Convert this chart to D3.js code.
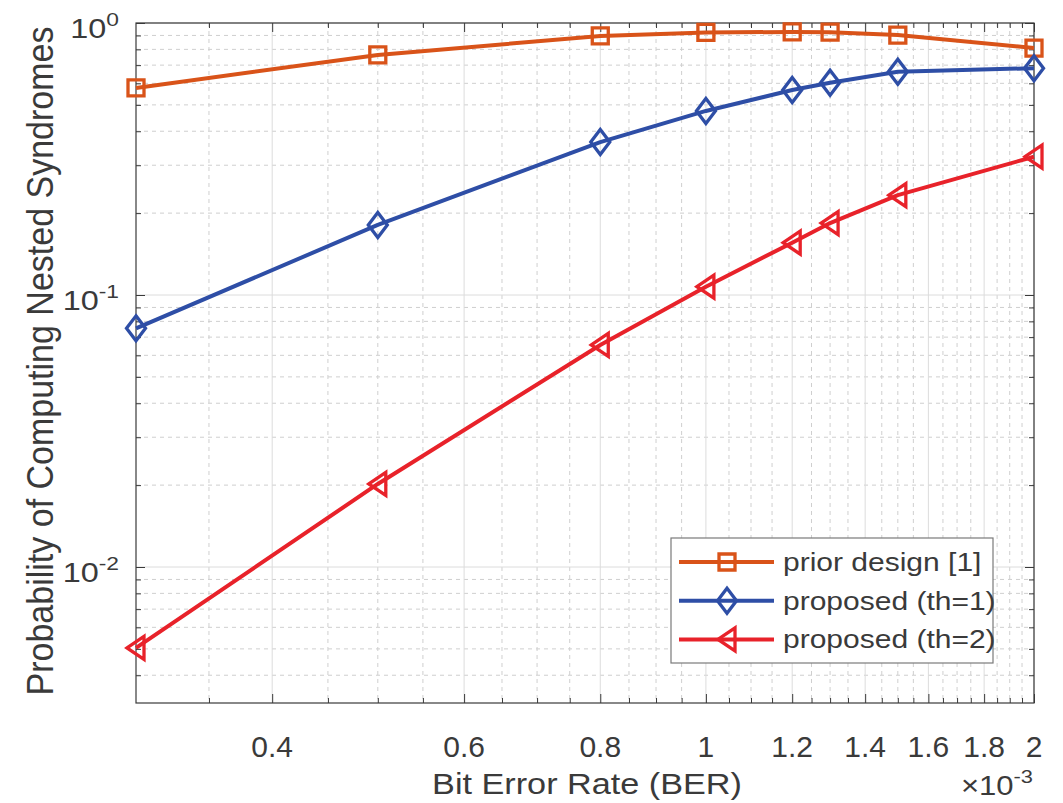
<!DOCTYPE html>
<html>
<head>
<meta charset="utf-8">
<script src="https://cdn.jsdelivr.net/npm/d3@7"></script>
<style>
  body { margin: 0; background: #fff; }
  text { font-family: "Liberation Sans", Arial, sans-serif; fill: #3a3a3a; }
</style>
</head>
<body>
<script>
// data (BER in absolute units, shown x 10^-3 on the axis)
var ber = [0.3e-3, 0.5e-3, 0.8e-3, 1.0e-3, 1.2e-3, 1.3e-3, 1.5e-3, 2.0e-3];
var prior = [0.577, 0.763, 0.896, 0.923, 0.927, 0.925, 0.903, 0.809];
var th1 = [0.0754, 0.181, 0.365, 0.475, 0.567, 0.603, 0.662, 0.682];
var th2 = [0.00504, 0.0202, 0.0655, 0.1073, 0.1557, 0.1839, 0.2329, 0.3224];
var seriesNames = ["prior design [1]", "proposed (th=1)", "proposed (th=2)"];
var xTickVals = [0.4, 0.6, 0.8, 1, 1.2, 1.4, 1.6, 1.8, 2];
var yTickExp = [0, -1, -2];

var W = 1063, H = 803;
var pL = 136, pR = 1034, pT = 23, pB = 703;

var svg = d3.select("body").append("svg")
  .attr("width", W).attr("height", H);

var x = d3.scaleLog().domain([0.3e-3, 2e-3]).range([pL, pR]);
var y = d3.scaleLog().domain([Math.pow(10, -2.5), 1]).range([pB, pT]);

// minor values
var xMinor = d3.range(0.35, 2.0, 0.05).map(function(v){ return +v.toFixed(2); })
  .filter(function(v){ return xTickVals.indexOf(v) < 0; });
var yMinor = [];
[-3, -2, -1].forEach(function(e){
  for (var k = 2; k <= 9; k++) {
    var v = k * Math.pow(10, e);
    if (v >= Math.pow(10, -2.5) && v < 1) yMinor.push(v);
  }
});

// grid
var grid = svg.append("g");
grid.selectAll(".xm").data(xMinor).enter().append("line")
  .attr("x1", function(d){ return x(d*1e-3); }).attr("x2", function(d){ return x(d*1e-3); })
  .attr("y1", pT).attr("y2", pB)
  .attr("stroke", "#cfcfcf").attr("stroke-dasharray", "4,4");
grid.selectAll(".ym").data(yMinor).enter().append("line")
  .attr("y1", function(d){ return y(d); }).attr("y2", function(d){ return y(d); })
  .attr("x1", pL).attr("x2", pR)
  .attr("stroke", "#cfcfcf").attr("stroke-dasharray", "4,4");
grid.selectAll(".xM").data(xTickVals).enter().append("line")
  .attr("x1", function(d){ return x(d*1e-3); }).attr("x2", function(d){ return x(d*1e-3); })
  .attr("y1", pT).attr("y2", pB)
  .attr("stroke", "#dcdcdc");
grid.selectAll(".yM").data(yTickExp).enter().append("line")
  .attr("y1", function(d){ return y(Math.pow(10, d)); }).attr("y2", function(d){ return y(Math.pow(10, d)); })
  .attr("x1", pL).attr("x2", pR)
  .attr("stroke", "#dcdcdc");

// ticks via d3 axes (inward, all four sides)
function tickAxis(gen, tr, vals, size) {
  var g = svg.append("g").attr("transform", tr)
    .call(gen.tickValues(vals).tickSizeInner(size).tickSizeOuter(0).tickFormat(""));
  g.select(".domain").remove();
  g.selectAll("line").attr("stroke", "#3a3a3a");
}
var xMajVals = xTickVals.map(function(v){ return v*1e-3; });
var xMinVals = xMinor.map(function(v){ return v*1e-3; });
var yMajVals = yTickExp.map(function(e){ return Math.pow(10, e); });
tickAxis(d3.axisBottom(x), "translate(0," + pB + ")", xMajVals, -9);
tickAxis(d3.axisBottom(x), "translate(0," + pB + ")", xMinVals, -5);
tickAxis(d3.axisTop(x), "translate(0," + pT + ")", xMajVals, -9);
tickAxis(d3.axisTop(x), "translate(0," + pT + ")", xMinVals, -5);
tickAxis(d3.axisLeft(y), "translate(" + pL + ",0)", yMajVals, -9);
tickAxis(d3.axisLeft(y), "translate(" + pL + ",0)", yMinor, -5);
tickAxis(d3.axisRight(y), "translate(" + pR + ",0)", yMajVals, -9);
tickAxis(d3.axisRight(y), "translate(" + pR + ",0)", yMinor, -5);

// box
svg.append("rect").attr("x", pL).attr("y", pT)
  .attr("width", pR - pL).attr("height", pB - pT)
  .attr("fill", "none").attr("stroke", "#3a3a3a").attr("stroke-width", 1.2);

// stretched text helper
function stext(px, py, size, sx, anchor) {
  return svg.append("text")
    .attr("transform", "translate(" + px + "," + py + ") scale(" + sx + ",1)")
    .attr("font-size", size).attr("text-anchor", anchor || "start");
}

// x tick labels
xTickVals.forEach(function(v){
  stext(x(v*1e-3), 757, 30, 1.0, "middle").text(String(v));
});
// y tick labels
yTickExp.forEach(function(e){
  var t = stext(119, y(Math.pow(10, e)) + 15, 27, 1.2, "end");
  t.append("tspan").text("10");
  t.append("tspan").attr("dy", -12).attr("font-size", 19).text(String(e));
});
// exponent label
var ex = stext(1033, 795, 27, 1.15, "end");
ex.append("tspan").text("\u00d710");
ex.append("tspan").attr("dy", -12).attr("font-size", 19).text("-3");

// axis labels
stext(587, 794, 29, 1.18, "middle").text("Bit Error Rate (BER)");
svg.append("text")
  .attr("transform", "translate(53,361) rotate(-90) scale(1,1.1)")
  .attr("font-size", 34).attr("text-anchor", "middle")
  .text("Probability of Computing Nested Syndromes");

// markers
var markers = {
  square: "M-8,-8H8V8H-8Z",
  diamond: "M0,-12.5L9.5,0L0,12.5L-9.5,0Z",
  tri: "M-9,0L8,-11.5L8,11.5Z"
};
var series = [
  { name: seriesNames[0], vals: prior, color: "#d95319", mk: "square" },
  { name: seriesNames[1], vals: th1, color: "#2e4ea6", mk: "diamond" },
  { name: seriesNames[2], vals: th2, color: "#e8222a", mk: "tri" }
];

var line = d3.line()
  .x(function(d){ return x(d[0]); })
  .y(function(d){ return y(d[1]); });

series.forEach(function(s){
  var pts = ber.map(function(b, i){ return [b, s.vals[i]]; });
  svg.append("path").datum(pts).attr("d", line)
    .attr("fill", "none").attr("stroke", s.color).attr("stroke-width", 4)
    .attr("stroke-linejoin", "round");
  svg.selectAll(null).data(pts).enter().append("path")
    .attr("d", markers[s.mk])
    .attr("transform", function(d){ return "translate(" + x(d[0]) + "," + y(d[1]) + ")"; })
    .attr("fill", "none").attr("stroke", s.color).attr("stroke-width", 3.3);
});

// legend
var lg = svg.append("g");
lg.append("rect").attr("x", 671).attr("y", 538).attr("width", 322).attr("height", 125)
  .attr("fill", "#fff").attr("stroke", "#7a7a7a").attr("stroke-width", 1.2);
series.forEach(function(s, i){
  var ly = 562 + i * 38.7;
  lg.append("line").attr("x1", 679).attr("x2", 774).attr("y1", ly).attr("y2", ly)
    .attr("stroke", s.color).attr("stroke-width", 4);
  lg.append("path").attr("d", markers[s.mk])
    .attr("transform", "translate(727," + ly + ")")
    .attr("fill", "none").attr("stroke", s.color).attr("stroke-width", 3.3);
  svg.append("text")
    .attr("transform", "translate(783," + (ly + 9) + ") scale(1.2,1)")
    .attr("font-size", 25).attr("fill", "#222")
    .text(s.name);
});
</script>
</body>
</html>
